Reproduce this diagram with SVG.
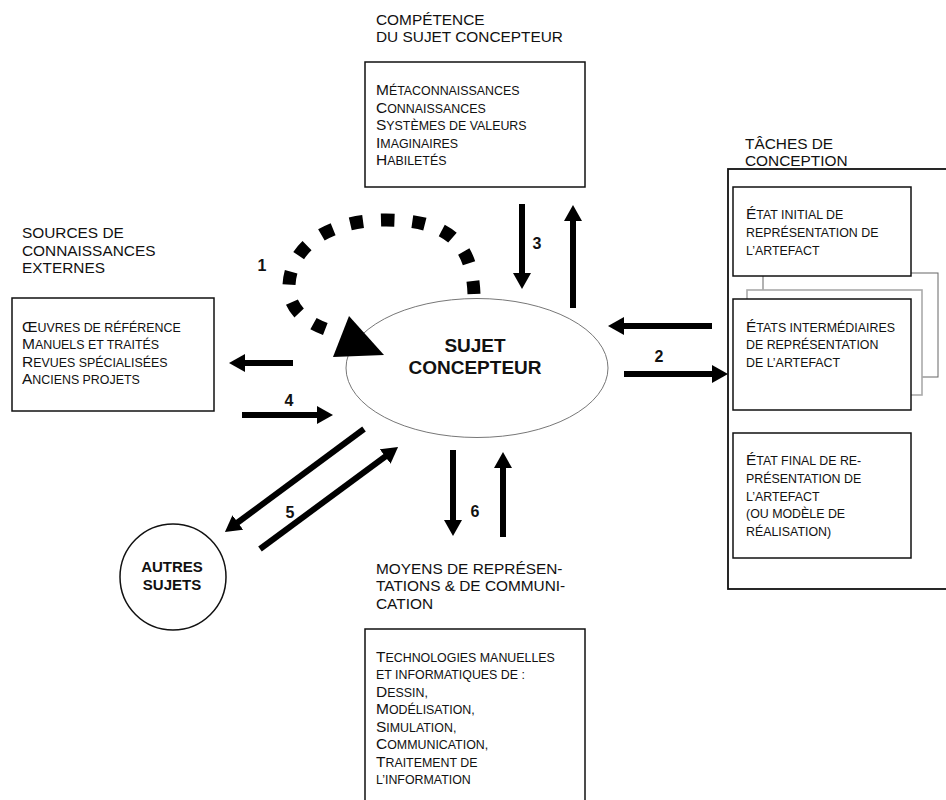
<svg xmlns="http://www.w3.org/2000/svg" width="946" height="800" viewBox="0 0 946 800">
<style>
text{font-family:"Liberation Sans",Arial,sans-serif;fill:#111}
.hd{font-size:15.4px}
.tx{font-size:12.4px}
.b{font-size:15.5px}
.lbl{font-size:16px;font-weight:bold;text-anchor:middle}
.box{fill:#fff;stroke:#111;stroke-width:1.5}
.arr{stroke:#000;stroke-width:6;fill:none;marker-end:url(#ah)}
</style>
<defs>
<marker id="ah" viewBox="0 0 16 18" markerWidth="16" markerHeight="18" markerUnits="userSpaceOnUse" refX="1" refY="9" orient="auto">
<path d="M0,0 L16,9 L0,18 Z" fill="#000"/>
</marker>
</defs>
<rect width="946" height="800" fill="#fff"/>

<g id="competence">
<text class="hd" x="376" y="25">COMPÉTENCE</text>
<text class="hd" x="376" y="42">DU SUJET CONCEPTEUR</text>
<rect class="box" x="365" y="62" width="220" height="125"/>
<text class="tx" x="376" y="95"><tspan class="b">M</tspan>ÉTACONNAISSANCES</text>
<text class="tx" x="376" y="112.5"><tspan class="b">C</tspan>ONNAISSANCES</text>
<text class="tx" x="376" y="130"><tspan class="b">S</tspan>YSTÈMES DE VALEURS</text>
<text class="tx" x="376" y="147.5"><tspan class="b">I</tspan>MAGINAIRES</text>
<text class="tx" x="376" y="165"><tspan class="b">H</tspan>ABILETÉS</text>
</g>

<g id="sources">
<text class="hd" x="22" y="238">SOURCES DE</text>
<text class="hd" x="22" y="255.5">CONNAISSANCES</text>
<text class="hd" x="22" y="273">EXTERNES</text>
<rect class="box" x="12" y="298" width="202" height="113"/>
<text class="tx" x="22" y="331.5"><tspan class="b">Œ</tspan>UVRES DE RÉFÉRENCE</text>
<text class="tx" x="22" y="349"><tspan class="b">M</tspan>ANUELS ET TRAITÉS</text>
<text class="tx" x="22" y="366.5"><tspan class="b">R</tspan>EVUES SPÉCIALISÉES</text>
<text class="tx" x="22" y="384"><tspan class="b">A</tspan>NCIENS PROJETS</text>
</g>

<g id="taches">
<text class="hd" x="745" y="148.5">TÂCHES DE</text>
<text class="hd" x="745" y="166">CONCEPTION</text>
<rect x="728" y="169" width="230" height="420" fill="#fff" stroke="#111" stroke-width="1.8"/>
<rect x="763" y="273" width="175" height="104" fill="#fff" stroke="#666" stroke-width="1"/>
<rect x="747" y="290" width="175" height="105" fill="#fff" stroke="#aaa" stroke-width="1.6"/>
<g id="etat-initial">
<rect class="box" x="733" y="187" width="178" height="89"/>
<text class="tx" x="746" y="219"><tspan class="b">É</tspan>TAT INITIAL DE</text>
<text class="tx" x="746" y="237">REPRÉSENTATION DE</text>
<text class="tx" x="746" y="254.5">L’ARTEFACT</text>
</g>
<g id="etats-intermediaires">
<rect class="box" x="733" y="299" width="178" height="111"/>
<text class="tx" x="746" y="331.5"><tspan class="b">É</tspan>TATS INTERMÉDIAIRES</text>
<text class="tx" x="746" y="349">DE REPRÉSENTATION</text>
<text class="tx" x="746" y="366.5">DE L’ARTEFACT</text>
</g>
<g id="etat-final">
<rect class="box" x="733" y="433" width="178" height="125"/>
<text class="tx" x="746" y="465"><tspan class="b">É</tspan>TAT FINAL DE RE-</text>
<text class="tx" x="746" y="482.5">PRÉSENTATION DE</text>
<text class="tx" x="746" y="500.5">L’ARTEFACT</text>
<text class="tx" x="746" y="518">(OU MODÈLE DE</text>
<text class="tx" x="746" y="536">RÉALISATION)</text>
</g>
</g>

<g id="moyens">
<text class="hd" x="376" y="573.5">MOYENS DE REPRÉSEN-</text>
<text class="hd" x="376" y="591">TATIONS &amp; DE COMMUNI-</text>
<text class="hd" x="376" y="608.5">CATION</text>
<rect class="box" x="365" y="629" width="220" height="190"/>
<text class="tx" x="376" y="661.5"><tspan class="b">T</tspan>ECHNOLOGIES MANUELLES</text>
<text class="tx" x="376" y="679">ET INFORMATIQUES DE :</text>
<text class="tx" x="376" y="696.5"><tspan class="b">D</tspan>ESSIN,</text>
<text class="tx" x="376" y="714"><tspan class="b">M</tspan>ODÉLISATION,</text>
<text class="tx" x="376" y="731.5"><tspan class="b">S</tspan>IMULATION,</text>
<text class="tx" x="376" y="749"><tspan class="b">C</tspan>OMMUNICATION,</text>
<text class="tx" x="376" y="766.5"><tspan class="b">T</tspan>RAITEMENT DE</text>
<text class="tx" x="376" y="784">L’INFORMATION</text>
</g>

<g id="sujet-concepteur">
<ellipse cx="477" cy="368" rx="131" ry="69.5" fill="#fff" stroke="#777" stroke-width="1"/>
<text x="475" y="352" font-size="19" font-weight="bold" text-anchor="middle">SUJET</text>
<text x="475" y="374" font-size="19" font-weight="bold" text-anchor="middle">CONCEPTEUR</text>
</g>

<g id="autres-sujets">
<circle cx="173" cy="577" r="53" fill="#fff" stroke="#111" stroke-width="1.5"/>
<text x="172" y="572" font-size="15" font-weight="bold" text-anchor="middle">AUTRES</text>
<text x="172" y="590" font-size="15" font-weight="bold" text-anchor="middle">SUJETS</text>
</g>

<g id="connectors">
<path d="M474,294 C472,240 445,220 386,220 C330,220 291,245 289,285 C288,305 300,320 328,330" fill="none" stroke="#000" stroke-width="13" stroke-dasharray="13 18"/>
<polygon points="333,357 384,355 349,316" fill="#000"/>
<line class="arr" x1="293" y1="363" x2="244" y2="363"/>
<line class="arr" x1="242" y1="415" x2="318" y2="415"/>
<line class="arr" x1="364" y1="429" x2="237" y2="523"/>
<line class="arr" x1="260" y1="549" x2="386" y2="456"/>
<line class="arr" x1="522" y1="204" x2="522" y2="274"/>
<line class="arr" x1="573" y1="308" x2="573" y2="220"/>
<line class="arr" x1="712" y1="326" x2="623" y2="326"/>
<line class="arr" x1="624" y1="374" x2="713" y2="374"/>
<line class="arr" x1="453" y1="450" x2="453" y2="521"/>
<line class="arr" x1="503" y1="537" x2="503" y2="467"/>
<text class="lbl" x="262" y="271">1</text>
<text class="lbl" x="659" y="362">2</text>
<text class="lbl" x="537" y="249">3</text>
<text class="lbl" x="289" y="406">4</text>
<text class="lbl" x="290" y="518">5</text>
<text class="lbl" x="475" y="517">6</text>
</g>
</svg>
